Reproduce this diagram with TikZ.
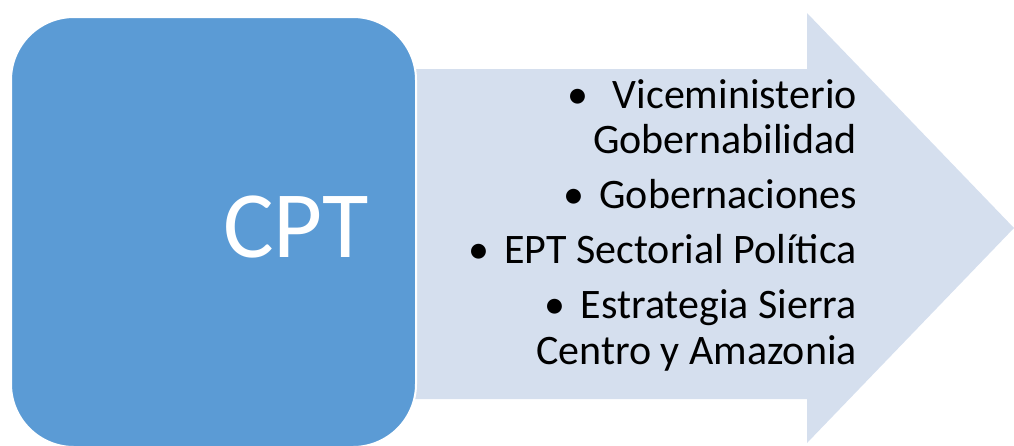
\documentclass[tikz,border=0pt]{standalone}
\usepackage{fontspec}
\setmainfont{Carlito}
\definecolor{boxblue}{HTML}{5B9BD5}
\definecolor{arrowfill}{HTML}{D5DFEE}
\tikzset{
  item/.style={anchor=base east, text=black, inner sep=0pt, font=\fontsize{42}{44}\selectfont},
}
\begin{document}
\begin{tikzpicture}[x=1pt,y=-1pt]
\useasboundingbox (0,0) rectangle (1014,445);
\fill[arrowfill] (300,69) -- (807,69) -- (807,13) -- (1014,228) -- (807,443) -- (807,399) -- (300,399) -- cycle;
\node[draw=white, line width=2pt, fill=boxblue, rounded corners=63pt, minimum width=405pt, minimum height=430pt, anchor=north west, inner sep=0pt] (box) at (10,16) {};
\node[anchor=base, text=white, inner sep=0pt, font=\fontsize{95}{100}\selectfont] (cpt) at (296,257) {CPT};
\node[item] (l1) at (857,108) {•\hspace{24pt}Viceministerio};
\node[item] (l2) at (857,153) {Gobernabilidad};
\node[item] (l3) at (857,208) {•\hspace{15pt}Gobernaciones};
\node[item] (l4) at (857,263) {•\hspace{15pt}EPT Sectorial Política};
\node[item] (l5) at (857,318) {•\hspace{15pt}Estrategia Sierra};
\node[item] (l6) at (857,364) {Centro y Amazonia};
\end{tikzpicture}
\end{document}
